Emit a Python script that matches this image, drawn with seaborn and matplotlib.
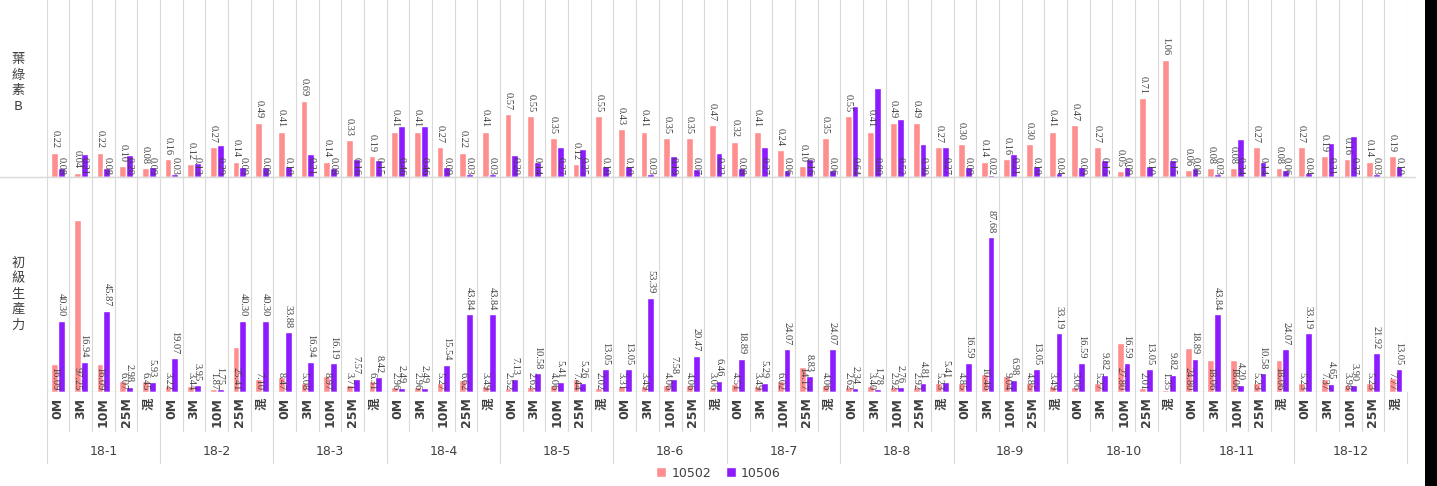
import matplotlib
matplotlib.use("Agg")
import matplotlib.pyplot as plt
import matplotlib.transforms as mtransforms
from matplotlib.lines import Line2D
from matplotlib.patches import Rectangle, Patch
import pandas as pd
import seaborn as sns

# ---- data -------------------------------------------------------------
groups = ["18-1", "18-2", "18-3", "18-4", "18-5", "18-6",
          "18-7", "18-8", "18-9", "18-10", "18-11", "18-12"]
depths = ["0M", "3M", "10M", "25M", "混"]
series = ["10502", "10506"]

chl_b_10502 = [0.22, 0.04, 0.22, 0.10, 0.08,
               0.16, 0.12, 0.27, 0.14, 0.49,
               0.41, 0.69, 0.14, 0.33, 0.19,
               0.41, 0.41, 0.27, 0.22, 0.41,
               0.57, 0.55, 0.35, 0.12, 0.55,
               0.43, 0.41, 0.35, 0.35, 0.47,
               0.32, 0.41, 0.24, 0.10, 0.35,
               0.55, 0.41, 0.49, 0.49, 0.27,
               0.30, 0.14, 0.16, 0.30, 0.41,
               0.47, 0.27, 0.05, 0.71, 1.06,
               0.06, 0.08, 0.08, 0.27, 0.08,
               0.27, 0.19, 0.16, 0.14, 0.19]
chl_b_10506 = [0.08, 0.21, 0.08, 0.20, 0.09,
               0.03, 0.13, 0.29, 0.09, 0.09,
               0.10, 0.21, 0.08, 0.16, 0.15,
               0.46, 0.46, 0.09, 0.03, 0.03,
               0.20, 0.14, 0.27, 0.25, 0.10,
               0.10, 0.03, 0.19, 0.07, 0.22,
               0.08, 0.27, 0.06, 0.16, 0.06,
               0.64, 0.80, 0.52, 0.30, 0.27,
               0.09, 0.02, 0.21, 0.10, 0.04,
               0.09, 0.15, 0.09, 0.10, 0.15,
               0.08, 0.03, 0.34, 0.14, 0.06,
               0.04, 0.31, 0.37, 0.03, 0.10]
pp_10502 = [16.09, 97.25, 16.09, 6.07, 6.45,
            3.22, 3.44, 1.87, 25.41, 7.10,
            8.47, 5.08, 8.97, 3.71, 6.31,
            2.96, 2.96, 5.27, 6.62, 3.49,
            2.52, 2.62, 4.06, 7.44, 2.02,
            3.31, 3.49, 4.06, 4.06, 3.06,
            4.51, 3.49, 6.02, 14.17, 4.06,
            2.62, 3.40, 2.92, 2.92, 5.23,
            4.85, 10.46, 9.04, 4.85, 3.49,
            3.06, 5.27, 27.80, 2.01, 1.35,
            24.80, 18.06, 18.06, 5.23, 18.06,
            5.23, 7.37, 3.98, 5.23, 7.77]
pp_10506 = [40.30, 16.94, 45.87, 2.98, 5.93,
            19.07, 3.95, 1.75, 40.30, 40.30,
            33.88, 16.94, 16.19, 7.57, 8.42,
            2.49, 2.49, 15.54, 43.84, 43.84,
            7.13, 10.58, 5.41, 5.26, 13.05,
            13.05, 53.39, 7.58, 20.47, 6.46,
            18.89, 5.29, 24.07, 8.83, 24.07,
            2.34, 1.78, 2.76, 4.81, 5.41,
            16.59, 87.68, 6.98, 13.05, 33.19,
            16.59, 9.82, 16.59, 13.05, 9.82,
            18.89, 43.84, 4.20, 10.58, 24.07,
            33.19, 4.65, 3.90, 21.92, 13.05]

colors = {"10502": "#FF8F8F", "10506": "#8C1CFF"}

# ---- long table -------------------------------------------------------
cats = [f"{g}|{d}" for g in groups for d in depths]
df = pd.DataFrame({
    "cat": cats * 2,
    "series": [series[0]] * len(cats) + [series[1]] * len(cats),
    "chl": chl_b_10502 + chl_b_10506,
    "pp": pp_10502 + pp_10506,
})

sns.set_theme(style="white")
plt.rcParams["font.family"] = ["DejaVu Sans", "Noto Sans CJK TC"]

W, H = 1437, 486
fig = plt.figure(figsize=(W / 100, H / 100), dpi=100)
x0, x1 = 46.7 / W, 1407 / W
ax_top = fig.add_axes([x0, 1 - 177 / H, x1 - x0, 177 / H])
ax_bot = fig.add_axes([x0, 1 - 392 / H, x1 - x0, (392 - 178) / H])

grid_c = "#D9D9D9"
lab_font = dict(family=["Liberation Serif"], fontsize=7.5, color="#404040")


def draw_panel(ax, col, ymax, top_series, base_series):
    sns.barplot(data=df, x="cat", y=col, hue="series", order=cats,
                hue_order=series, palette=colors, width=0.6, gap=0,
                saturation=1, errorbar=None, legend=False, ax=ax)
    ax.set_xlim(-0.5, len(cats) - 0.5)
    ax.set_ylim(0, ymax)
    ax.set_xlabel("")
    ax.set_ylabel("")
    ax.set_yticks([])
    for s in ax.spines.values():
        s.set_visible(False)
    for k in range(len(cats) + 1):
        ax.axvline(k - 0.5, color=grid_c, lw=0.8, zorder=0)
    # value labels: one series above the bar end, the other at the base
    cont = dict(zip(series, ax.containers))
    c_top = cont[top_series]
    ax.bar_label(c_top, labels=[f"{b.get_height():.2f}" for b in c_top],
                 rotation=-90, padding=3, **lab_font)
    c_base = cont[base_series]
    off = mtransforms.offset_copy(ax.transData, fig=fig, y=1.5, units="points")
    for b in c_base:
        ax.text(b.get_x() + b.get_width() / 2, 0, f"{b.get_height():.2f}",
                rotation=-90, ha="center", va="bottom", transform=off,
                **lab_font)


draw_panel(ax_top, "chl", 1.6, "10502", "10506")
draw_panel(ax_bot, "pp", 121, "10506", "10502")

ax_top.set_xticks([])
ax_top.axhline(0, color=grid_c, lw=1.0)
ax_bot.axhline(0, color=grid_c, lw=1.0)

# depth tick labels
ax_bot.set_xticks(range(len(cats)))
ax_bot.set_xticklabels(depths * len(groups), rotation=90, fontsize=9,
                       fontweight="bold", color="#404040")
ax_bot.tick_params(axis="x", length=0, pad=4)

# separators and group labels under the axis
trans = mtransforms.blended_transform_factory(ax_bot.transData, ax_bot.transAxes)
for k in range(len(cats) + 1):
    ylow = -0.33 if k % len(depths) == 0 else -0.18
    ax_bot.add_line(Line2D([k - 0.5, k - 0.5], [0, ylow], transform=trans,
                           color=grid_c, lw=0.8, clip_on=False))
for i, g in enumerate(groups):
    ax_bot.text(i * len(depths) + 2, -0.28, g, transform=trans, ha="center",
                va="center", fontsize=9, color="#404040")

# row titles on the left
fig.text(18 / W, 1 - 83 / H, "葉\n綠\n素\nB", ha="center", va="center",
         fontsize=9.5, linespacing=1.25, color="#404040",
         family=["Noto Sans CJK TC", "DejaVu Sans"])
fig.text(18 / W, 1 - 294 / H, "初\n級\n生\n產\n力", ha="center", va="center",
         fontsize=9.5, linespacing=1.25, color="#404040",
         family=["Noto Sans CJK TC", "DejaVu Sans"])

# line separating the two panels
fig.add_artist(Line2D([0, 1415 / W], [1 - 177.5 / H] * 2, color=grid_c, lw=1.0))

# legend
handles = [Patch(facecolor=colors[s], label=s) for s in series]
fig.legend(handles=handles, loc="center", bbox_to_anchor=(0.5, 1 - 473 / H),
           ncol=2, frameon=False, fontsize=9, handlelength=0.8,
           handleheight=0.8, columnspacing=1.2, handletextpad=0.4,
           labelcolor="#404040")

# dark frame edge at the right
fig.add_artist(Rectangle((1425 / W, 0), 1 - 1425 / W, 1, transform=fig.transFigure,
                         facecolor="black", edgecolor="none"))

fig.savefig("out.png", dpi=100)
